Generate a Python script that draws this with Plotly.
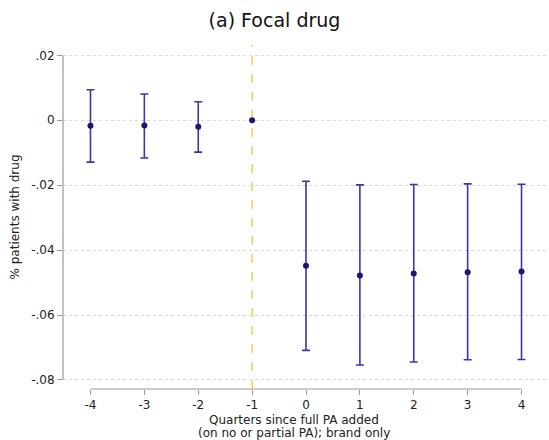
import plotly.graph_objects as go

# Event-study estimates: quarters relative to full PA being added
quarters = [-4, -3, -2, -1, 0, 1, 2, 3, 4]
coef = [-0.0017, -0.0016, -0.0020, 0.0, -0.0448, -0.0478, -0.0472, -0.0468, -0.0466]
ci_low = [-0.0129, -0.0116, -0.0098, 0.0, -0.0709, -0.0754, -0.0745, -0.0738, -0.0737]
ci_high = [0.0094, 0.0081, 0.0057, 0.0, -0.0188, -0.0199, -0.0198, -0.0196, -0.0197]

y_ticks = [0.02, 0, -0.02, -0.04, -0.06, -0.08]
y_tick_labels = [".02", "0", "-.02", "-.04", "-.06", "-.08"]
x_ticks = [-4, -3, -2, -1, 0, 1, 2, 3, 4]

MARK = "#1c1670"
BAR = "#3f35a3"
AXIS = "#9a9a9a"
FONT = "DejaVu Sans"
TXT = "#222222"

err_plus = [h - c for h, c in zip(ci_high, coef)]
err_minus = [c - l for c, l in zip(coef, ci_low)]
has_ci = [h != l for h, l in zip(ci_high, ci_low)]

fig = go.Figure()

# Reference period marker at t = -1
fig.add_vline(x=-1, line=dict(color="#f2c12e", width=1.2, dash="dash"), layer="below")

fig.add_trace(go.Scatter(
    x=[q for q, ok in zip(quarters, has_ci) if ok],
    y=[c for c, ok in zip(coef, has_ci) if ok],
    mode="markers",
    marker=dict(color=MARK, size=6),
    error_y=dict(
        type="data", symmetric=False,
        array=[e for e, ok in zip(err_plus, has_ci) if ok],
        arrayminus=[e for e, ok in zip(err_minus, has_ci) if ok],
        color=BAR, thickness=1.6, width=4,
    ),
    showlegend=False,
))
fig.add_trace(go.Scatter(
    x=[q for q, ok in zip(quarters, has_ci) if not ok],
    y=[c for c, ok in zip(coef, has_ci) if not ok],
    mode="markers",
    marker=dict(color=MARK, size=6),
    showlegend=False,
))

# Axis lines spanning only the tick range
fig.add_shape(type="line", xref="paper", yref="y", x0=0, x1=0,
              y0=min(y_ticks), y1=max(y_ticks), line=dict(color=AXIS, width=1.2))
fig.add_shape(type="line", xref="x", yref="paper", x0=min(x_ticks), x1=max(x_ticks),
              y0=0, y1=0, line=dict(color=AXIS, width=1.2))

# Two-line x-axis caption
fig.add_annotation(text="Quarters since full PA added", xref="paper", yref="paper",
                   x=0.475, y=-0.090, xanchor="center", yanchor="middle", showarrow=False,
                   font=dict(family=FONT, size=12, color=TXT))
fig.add_annotation(text="(on no or partial PA); brand only", xref="paper", yref="paper",
                   x=0.475, y=-0.128, xanchor="center", yanchor="middle", showarrow=False,
                   font=dict(family=FONT, size=12, color=TXT))

fig.update_layout(
    width=549, height=440,
    margin=dict(l=63, r=0, t=45, b=51),
    paper_bgcolor="white", plot_bgcolor="white",
    font=dict(family=FONT, size=12, color=TXT),
    title=dict(text="(a) Focal drug", x=0.5, xanchor="center", y=0.953, yanchor="middle",
               font=dict(family=FONT, size=19, color="#111111")),
    xaxis=dict(
        range=[-4.51, 4.51], tickvals=x_ticks, ticktext=[str(v) for v in x_ticks],
        showgrid=False, zeroline=False, showline=False,
        ticks="outside", ticklen=5, tickcolor=AXIS, tickwidth=1.2,
        tickfont=dict(size=12, color=TXT),
    ),
    yaxis=dict(
        range=[-0.0828, 0.0232], tickvals=y_ticks, ticktext=y_tick_labels,
        showgrid=True, gridcolor="#dadada", griddash="dot", gridwidth=1,
        zeroline=False, showline=False,
        ticks="outside", ticklen=5, tickcolor=AXIS, tickwidth=1.2,
        tickfont=dict(size=12, color=TXT),
        title=dict(text="% patients with drug", font=dict(size=12, color=TXT), standoff=8),
    ),
)

fig.write_html("out.html")
